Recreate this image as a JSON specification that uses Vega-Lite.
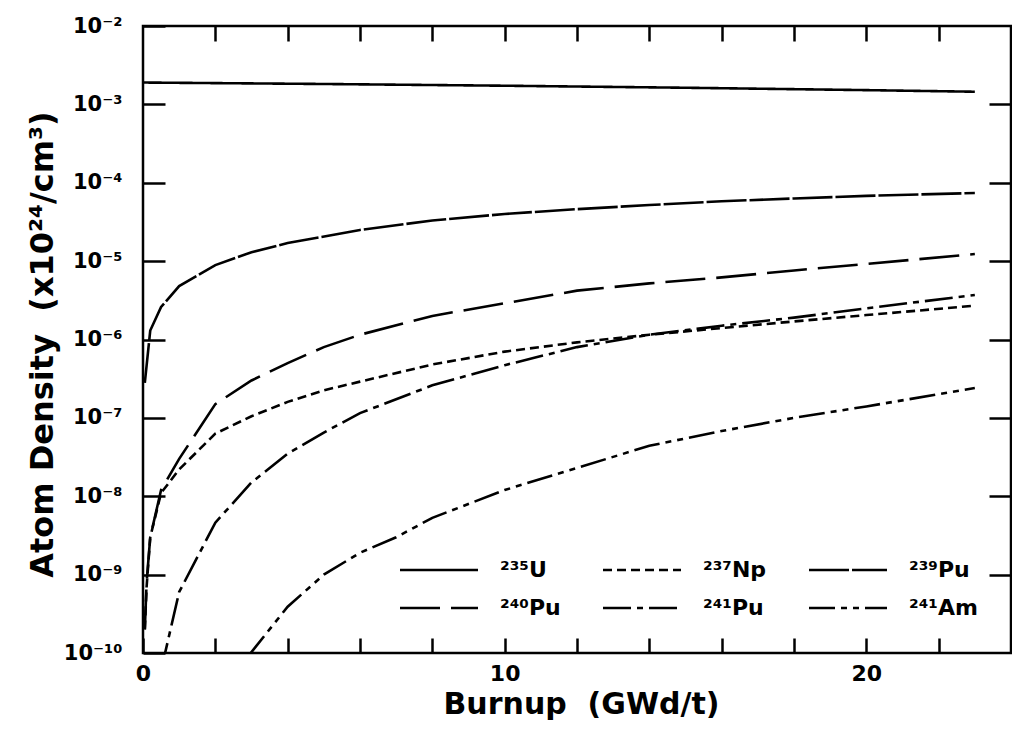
{
  "$schema": "https://vega.github.io/schema/vega-lite/v6.json",
  "width": 868,
  "height": 627,
  "autosize": {"type": "none"},
  "padding": {"left": 143, "top": 26, "right": 1, "bottom": 79},
  "background": "white",
  "config": {
    "view": {"stroke": "black", "strokeWidth": 2.5},
    "font": "DejaVu Sans",
    "axis": {
      "grid": false,
      "domain": false,
      "tickColor": "black",
      "tickWidth": 2.5,
      "labelColor": "black",
      "titleColor": "black",
      "labelFont": "DejaVu Sans",
      "labelFontWeight": "bold",
      "titleFont": "DejaVu Sans",
      "titleFontWeight": "bold",
      "labelOverlap": false,
      "labelFlush": false
    }
  },
  "data": {
    "values": [
      {"n": "²³⁵U", "x": 0, "v": 1.9e-3},
      {"n": "²³⁵U", "x": 5, "v": 1.82e-3},
      {"n": "²³⁵U", "x": 10, "v": 1.73e-3},
      {"n": "²³⁵U", "x": 15, "v": 1.63e-3},
      {"n": "²³⁵U", "x": 20, "v": 1.52e-3},
      {"n": "²³⁵U", "x": 23, "v": 1.45e-3},
      {"n": "²³⁷Np", "x": 0.05, "v": 2e-10},
      {"n": "²³⁷Np", "x": 0.1, "v": 7e-10},
      {"n": "²³⁷Np", "x": 0.2, "v": 3e-9},
      {"n": "²³⁷Np", "x": 0.5, "v": 1.1e-8},
      {"n": "²³⁷Np", "x": 1, "v": 2.2e-8},
      {"n": "²³⁷Np", "x": 2, "v": 6.3e-8},
      {"n": "²³⁷Np", "x": 3, "v": 1.05e-7},
      {"n": "²³⁷Np", "x": 4, "v": 1.6e-7},
      {"n": "²³⁷Np", "x": 5, "v": 2.25e-7},
      {"n": "²³⁷Np", "x": 6, "v": 2.9e-7},
      {"n": "²³⁷Np", "x": 8, "v": 4.8e-7},
      {"n": "²³⁷Np", "x": 10, "v": 7.0e-7},
      {"n": "²³⁷Np", "x": 12, "v": 9.2e-7},
      {"n": "²³⁷Np", "x": 14, "v": 1.15e-6},
      {"n": "²³⁷Np", "x": 16, "v": 1.4e-6},
      {"n": "²³⁷Np", "x": 18, "v": 1.7e-6},
      {"n": "²³⁷Np", "x": 20, "v": 2.05e-6},
      {"n": "²³⁷Np", "x": 23, "v": 2.7e-6},
      {"n": "²³⁹Pu", "x": 0.05, "v": 2.8e-7},
      {"n": "²³⁹Pu", "x": 0.2, "v": 1.3e-6},
      {"n": "²³⁹Pu", "x": 0.5, "v": 2.6e-6},
      {"n": "²³⁹Pu", "x": 1, "v": 4.8e-6},
      {"n": "²³⁹Pu", "x": 2, "v": 8.9e-6},
      {"n": "²³⁹Pu", "x": 3, "v": 1.3e-5},
      {"n": "²³⁹Pu", "x": 4, "v": 1.7e-5},
      {"n": "²³⁹Pu", "x": 6, "v": 2.5e-5},
      {"n": "²³⁹Pu", "x": 8, "v": 3.3e-5},
      {"n": "²³⁹Pu", "x": 10, "v": 4.0e-5},
      {"n": "²³⁹Pu", "x": 12, "v": 4.6e-5},
      {"n": "²³⁹Pu", "x": 14, "v": 5.2e-5},
      {"n": "²³⁹Pu", "x": 16, "v": 5.8e-5},
      {"n": "²³⁹Pu", "x": 18, "v": 6.3e-5},
      {"n": "²³⁹Pu", "x": 20, "v": 6.8e-5},
      {"n": "²³⁹Pu", "x": 23, "v": 7.4e-5},
      {"n": "²⁴⁰Pu", "x": 0.05, "v": 2e-10},
      {"n": "²⁴⁰Pu", "x": 0.1, "v": 8e-10},
      {"n": "²⁴⁰Pu", "x": 0.2, "v": 3e-9},
      {"n": "²⁴⁰Pu", "x": 0.5, "v": 1.2e-8},
      {"n": "²⁴⁰Pu", "x": 1, "v": 3.0e-8},
      {"n": "²⁴⁰Pu", "x": 2, "v": 1.5e-7},
      {"n": "²⁴⁰Pu", "x": 3, "v": 3.0e-7},
      {"n": "²⁴⁰Pu", "x": 4, "v": 5.0e-7},
      {"n": "²⁴⁰Pu", "x": 5, "v": 8.0e-7},
      {"n": "²⁴⁰Pu", "x": 6, "v": 1.15e-6},
      {"n": "²⁴⁰Pu", "x": 8, "v": 2.0e-6},
      {"n": "²⁴⁰Pu", "x": 10, "v": 2.9e-6},
      {"n": "²⁴⁰Pu", "x": 12, "v": 4.2e-6},
      {"n": "²⁴⁰Pu", "x": 14, "v": 5.2e-6},
      {"n": "²⁴⁰Pu", "x": 16, "v": 6.2e-6},
      {"n": "²⁴⁰Pu", "x": 18, "v": 7.6e-6},
      {"n": "²⁴⁰Pu", "x": 20, "v": 9.2e-6},
      {"n": "²⁴⁰Pu", "x": 23, "v": 1.23e-5},
      {"n": "²⁴¹Pu", "x": 0.5, "v": 6e-11},
      {"n": "²⁴¹Pu", "x": 1, "v": 6e-10},
      {"n": "²⁴¹Pu", "x": 2, "v": 4.6e-9},
      {"n": "²⁴¹Pu", "x": 3, "v": 1.5e-8},
      {"n": "²⁴¹Pu", "x": 4, "v": 3.5e-8},
      {"n": "²⁴¹Pu", "x": 5, "v": 6.5e-8},
      {"n": "²⁴¹Pu", "x": 6, "v": 1.15e-7},
      {"n": "²⁴¹Pu", "x": 8, "v": 2.6e-7},
      {"n": "²⁴¹Pu", "x": 10, "v": 4.7e-7},
      {"n": "²⁴¹Pu", "x": 12, "v": 8.0e-7},
      {"n": "²⁴¹Pu", "x": 14, "v": 1.15e-6},
      {"n": "²⁴¹Pu", "x": 16, "v": 1.5e-6},
      {"n": "²⁴¹Pu", "x": 18, "v": 1.9e-6},
      {"n": "²⁴¹Pu", "x": 20, "v": 2.5e-6},
      {"n": "²⁴¹Pu", "x": 23, "v": 3.7e-6},
      {"n": "²⁴¹Am", "x": 2.9, "v": 9e-11},
      {"n": "²⁴¹Am", "x": 4, "v": 3.9e-10},
      {"n": "²⁴¹Am", "x": 5, "v": 1.0e-9},
      {"n": "²⁴¹Am", "x": 6, "v": 1.9e-9},
      {"n": "²⁴¹Am", "x": 7, "v": 3.0e-9},
      {"n": "²⁴¹Am", "x": 8, "v": 5.3e-9},
      {"n": "²⁴¹Am", "x": 10, "v": 1.2e-8},
      {"n": "²⁴¹Am", "x": 12, "v": 2.3e-8},
      {"n": "²⁴¹Am", "x": 14, "v": 4.4e-8},
      {"n": "²⁴¹Am", "x": 16, "v": 6.8e-8},
      {"n": "²⁴¹Am", "x": 18, "v": 1.0e-7},
      {"n": "²⁴¹Am", "x": 20, "v": 1.4e-7},
      {"n": "²⁴¹Am", "x": 23, "v": 2.4e-7}
    ]
  },
  "layer": [
    {
      "mark": {"type": "line", "color": "black", "strokeWidth": 2.6, "clip": true},
      "encoding": {
        "x": {
          "field": "x",
          "type": "quantitative",
          "scale": {"domain": [0, 24], "nice": false, "zero": false},
          "axis": {
            "orient": "bottom",
            "values": [0, 2, 4, 6, 8, 10, 12, 14, 16, 18, 20, 22],
            "tickSize": -15,
            "encode": {"ticks": {"update": {"y2": {"signal": "datum.value % 10 === 0 ? -23 : -15"}}}},
            "labelExpr": "datum.value % 10 === 0 ? datum.label : ''",
            "labelFontSize": 22,
            "labelPadding": 25,
            "labelBaseline": "top",
            "title": "Burnup\u00a0\u00a0(GWd/t)",
            "titleFontSize": 30,
            "titleX": 438,
            "titleY": 60,
            "titleAlign": "center",
            "titleBaseline": "alphabetic"
          }
        },
        "y": {
          "field": "v",
          "type": "quantitative",
          "scale": {"type": "log", "domain": [1e-10, 1e-2], "nice": false},
          "axis": {
            "orient": "left",
            "values": [1e-10, 1e-9, 1e-8, 1e-7, 1e-6, 1e-5, 1e-4, 1e-3, 1e-2],
            "tickSize": -22,
            "labelExpr": "'10' + ['⁻²','⁻³','⁻⁴','⁻⁵','⁻⁶','⁻⁷','⁻⁸','⁻⁹','⁻¹⁰'][round(-log(datum.value)/LN10) - 2]",
            "labelFontSize": 21,
            "labelPadding": 43,
            "labelAlign": "right",
            "labelBaseline": "middle",
            "title": "Atom\u00a0Density\u00a0\u00a0(x10²⁴/cm³)",
            "titleFontSize": 32,
            "titleAngle": -90,
            "titleX": -91,
            "titleY": 318,
            "titleAlign": "center",
            "titleBaseline": "alphabetic"
          }
        },
        "strokeDash": {
          "field": "n",
          "type": "nominal",
          "scale": {
            "domain": ["²³⁵U", "²⁴⁰Pu", "²³⁷Np", "²⁴¹Pu", "²³⁹Pu", "²⁴¹Am"],
            "range": [[1, 0], [40, 11], [9, 5], [28, 6, 6, 6], [40, 3], [26, 6, 6, 6, 6, 6]]
          },
          "legend": {
            "orient": "none",
            "legendX": 275,
            "legendY": 523,
            "columns": 3,
            "title": null,
            "padding": 0,
            "symbolType": "M-2,0H2",
            "symbolSize": 1521,
            "symbolStrokeWidth": 2.5,
            "symbolStrokeColor": "black",
            "labelFont": "DejaVu Sans",
            "labelFontWeight": "bold",
            "labelFontSize": 22,
            "labelColor": "black",
            "labelOffset": 40,
            "columnPadding": 37,
            "rowPadding": 6,
            "labelLimit": 0
          }
        }
      }
    },
    {
      "mark": {"type": "point", "opacity": 0, "clip": true},
      "encoding": {
        "x": {
          "field": "x",
          "type": "quantitative",
          "axis": {
            "orient": "top",
            "values": [2, 4, 6, 8, 10, 12, 14, 16, 18, 20, 22],
            "tickSize": -15,
            "encode": {"ticks": {"update": {"y2": {"signal": "datum.value % 10 === 0 ? 22 : 15"}}}},
            "labels": false,
            "title": null
          }
        },
        "y": {
          "field": "v",
          "type": "quantitative",
          "axis": {
            "orient": "right",
            "values": [1e-9, 1e-8, 1e-7, 1e-6, 1e-5, 1e-4, 1e-3],
            "tickSize": -22,
            "labels": false,
            "title": null
          }
        }
      }
    }
  ]
}
